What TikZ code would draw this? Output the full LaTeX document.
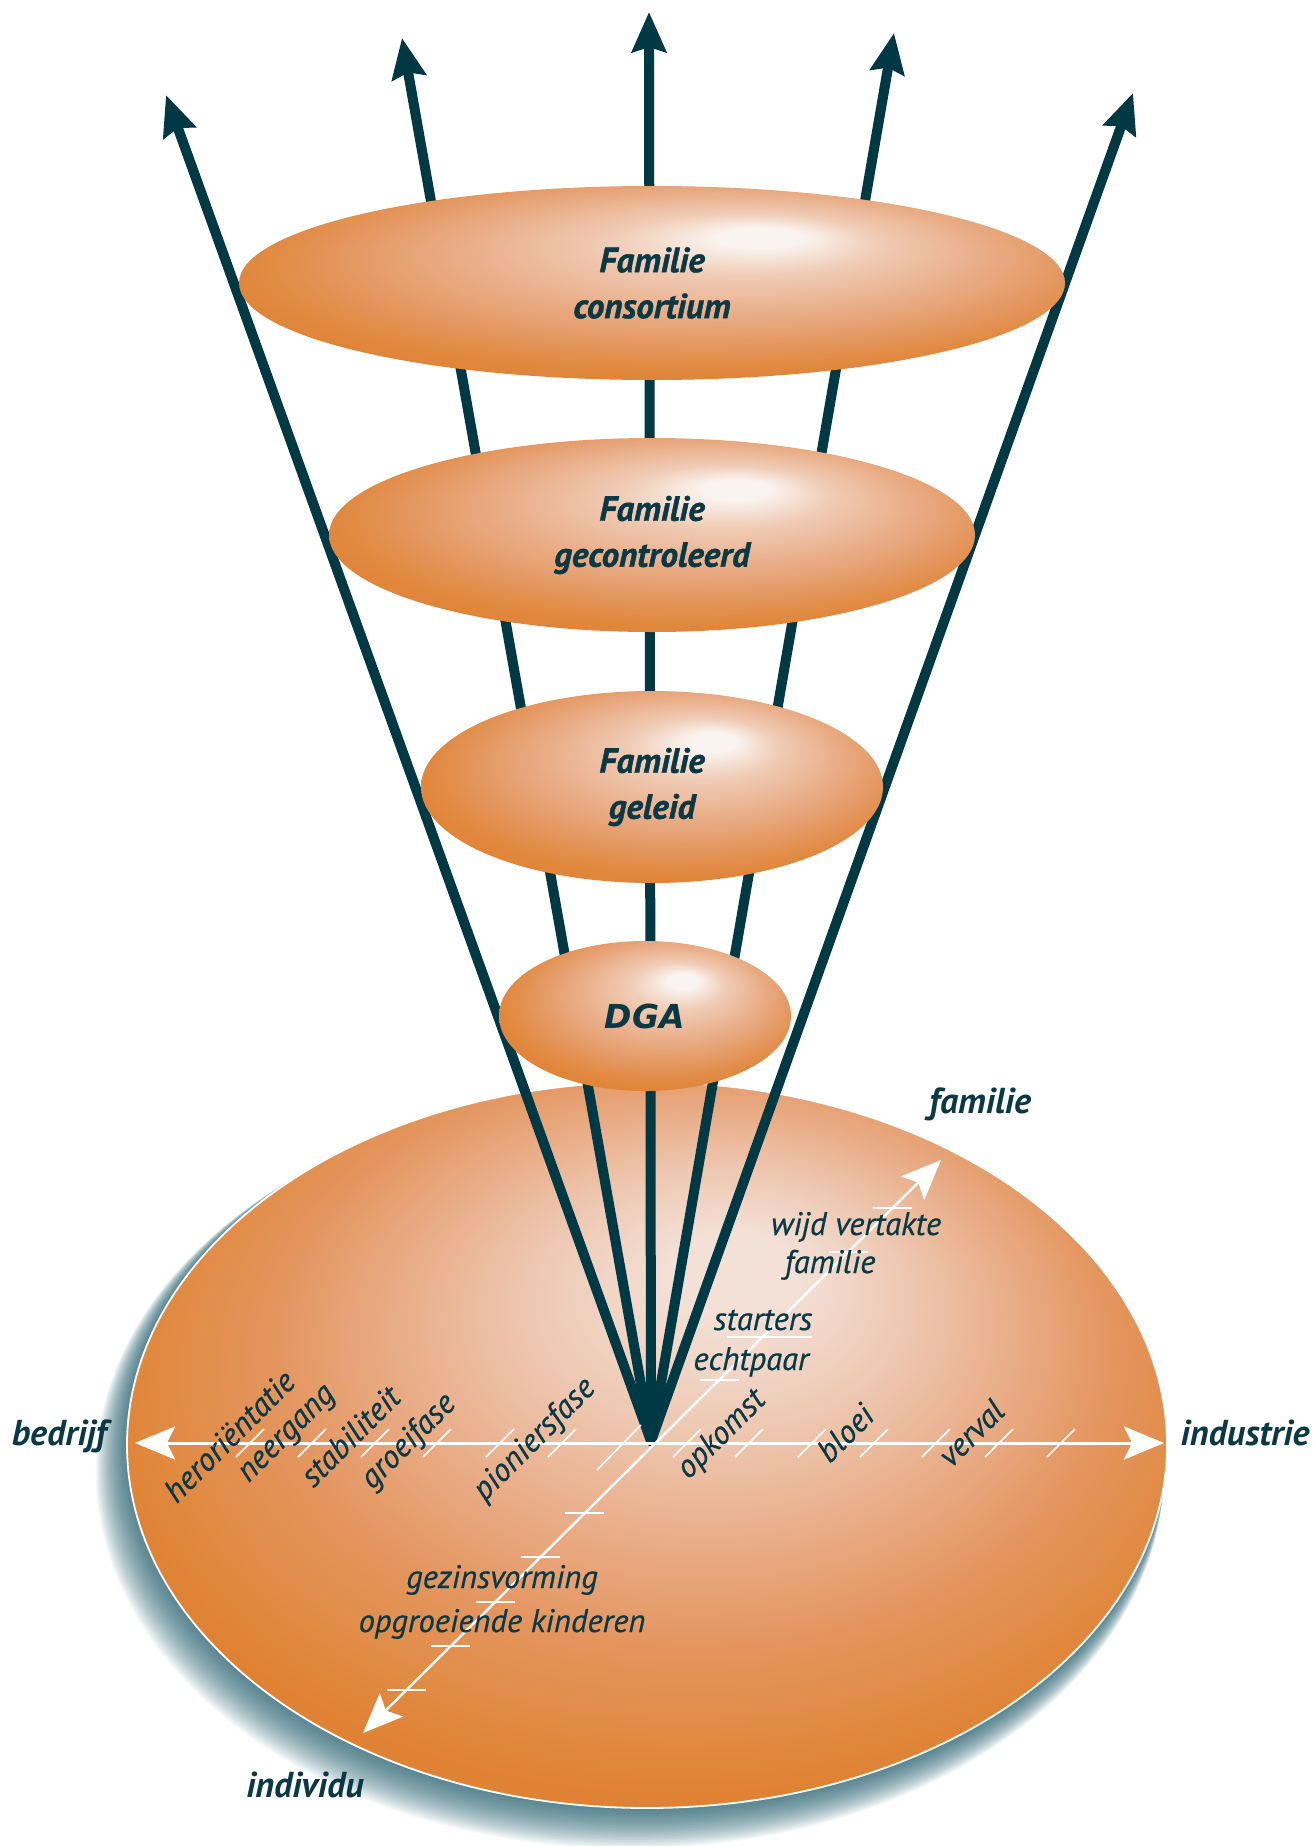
\documentclass[tikz,border=0pt]{standalone}
\usepackage{fontspec}
\setmainfont{PT Sans}
\newfontfamily\labelfont{PT Sans}[FakeBold=0.5]
\newfontfamily\tierfont{PT Sans}[FakeBold=1.2]
\newfontfamily\widefont{DejaVu Sans}
\usetikzlibrary{arrows.meta,shapes.geometric}

\definecolor{deepteal}{RGB}{0,56,68}
\definecolor{inkteal}{RGB}{10,56,68}
\definecolor{shadeteal}{RGB}{34,96,112}
\definecolor{hlcore}{RGB}{250,244,240}
\definecolor{peachA}{RGB}{240,204,182}
\definecolor{peachB}{RGB}{234,176,140}
\definecolor{peachC}{RGB}{229,154,102}
\definecolor{orngA}{RGB}{225,138,66}
\definecolor{orngB}{RGB}{223,130,51}
\definecolor{basinA}{RGB}{243,224,214}
\definecolor{basinB}{RGB}{238,200,178}
\definecolor{basinC}{RGB}{233,172,134}
\definecolor{basinD}{RGB}{228,150,96}

% highlight sitting up and to the right of the centre
\pgfdeclareradialshading{eggshade}{\pgfpoint{7bp}{12.5bp}}{%
  color(0bp)=(hlcore); color(2.5bp)=(hlcore); color(8bp)=(peachA);
  color(15bp)=(peachB); color(21bp)=(peachC); color(26bp)=(orngA);
  color(30bp)=(orngB); color(40bp)=(orngB)}
\pgfdeclareradialshading{basinshade}{\pgfpoint{4.5bp}{12.75bp}}{%
  color(0bp)=(basinA); color(3bp)=(basinA); color(9bp)=(basinB);
  color(15bp)=(basinC); color(20bp)=(basinD); color(25bp)=(orngA);
  color(28bp)=(orngB); color(40bp)=(orngB)}

\begin{document}
\begin{tikzpicture}[x=0.5pt, y=-0.5pt,
  fan/.style={draw=deepteal, line width=5pt, line cap=round,
    -{Stealth[length=20pt, width=17pt, inset=2.5pt]}},
  tier/.style={ellipse, inner sep=0pt, shade, shading=eggshade,
    font=\tierfont\fontsize{17.5}{23}\selectfont\bfseries\itshape,
    text=inkteal, align=center},
  basin/.style={ellipse, inner sep=0pt, shade, shading=basinshade,
    draw=white, line width=0.9pt},
  axisline/.style={draw=white, line width=1.5pt,
    {Stealth[length=20pt, width=16.5pt, inset=4pt]}-{Stealth[length=20pt, width=16.5pt, inset=4pt]}},
  tick/.style={draw=white, line width=0.75pt},
  lbl/.style={font=\labelfont\fontsize{16.3}{19}\selectfont\itshape, text=inkteal, inner sep=0pt},
  endlbl/.style={font=\fontsize{18}{21}\selectfont\bfseries\itshape, text=inkteal, inner sep=0pt}
]
\useasboundingbox (0,0) rectangle (1312,1846);
\fill[white] (0,0) rectangle (1312,1846);

% soft shadow under the base, falling to the lower left
\foreach \i in {1,...,28} {
  \fill[shadeteal, opacity=0.045] (647-0.62*\i, 1445+0.95*\i) ellipse [x radius=520+0.5*\i, y radius=363+0.5*\i];
}

% the base
\node[basin, minimum width=520pt, minimum height=363pt] (base) at (647,1445) {};

% fan of arrows rising from one point
\coordinate (apex) at (651,1441);
\coordinate (t1) at (166,95);
\coordinate (t2) at (402,38);
\coordinate (t3) at (649,12);
\coordinate (t4) at (894,33);
\coordinate (t5) at (1133,93);
\foreach \t in {t1,t2,t3,t4,t5} \draw[fan] (apex) -- (\t);

% stages
\node[tier, minimum width=413pt, minimum height=97pt] (consortium) at (652,283) {Familie\\consortium};
\node[tier, minimum width=323pt, minimum height=97pt] (gecontroleerd) at (652,535) {Familie\\gecontroleerd};
\node[tier, minimum width=231pt, minimum height=96pt] (geleid) at (652,787) {Familie\\geleid};
\node[tier, minimum width=146pt, minimum height=75pt, font=\widefont\fontsize{16.5}{20}\selectfont\bfseries\itshape] (dga) at (645,1016) {DGA};

% axes on the base
\coordinate (west) at (135,1443);
\coordinate (east) at (1164,1443);
\coordinate (famend) at (941,1160);
\coordinate (indend) at (363,1733);
\draw[axisline] (west) -- (east);
\draw[axisline, line width=1.2pt] (famend) -- (indend);

% scale marks on the horizontal axis
\foreach \x in {250,312,375,437,500,562,687,749,812,874,936,999,1061}
  \draw[tick] (\x-14,1457) -- (\x+14,1429);
\draw[tick] (597,1470) -- (641,1425);
% scale marks on the oblique axis
\foreach \y in {1208,1252,1380,1513,1557,1602,1646,1690}
  \draw[tick] ({655+1.009*(1443-\y)-19},\y) -- ++(39,0);
\draw[tick] (727,1337) -- (812,1337);

% axis names
\node[endlbl, anchor=base] (bedrijf) at (59,1445) {bedrijf};
\node[endlbl, anchor=base] (industrie) at (1245,1445) {industrie};
\node[endlbl, anchor=base] (familie) at (980,1113) {familie};
\node[endlbl, anchor=base] (individu) at (305,1797) {individu};

% phases along the horizontal axis
\node[lbl, rotate=45] (p1) at (229,1436) {heroriëntatie};
\node[lbl, rotate=45] (p2) at (289,1436) {neergang};
\node[lbl, rotate=45] (p3) at (350,1436) {stabiliteit};
\node[lbl, rotate=45] (p4) at (409,1442) {groeifase};
\node[lbl, rotate=45] (p5) at (535,1440) {pioniersfase};
\node[lbl, rotate=45] (p6) at (722,1435) {opkomst};
\node[lbl, rotate=45] (p7) at (845,1433) {bloei};
\node[lbl, rotate=45] (p8) at (971,1433) {verval};

% phases along the oblique axis
\node[lbl, anchor=base] (q1) at (856,1235) {wijd vertakte};
\node[lbl, anchor=base] (q2) at (830,1273) {familie};
\node[lbl, anchor=base] (q3) at (763,1330) {starters};
\node[lbl, anchor=base] (q4) at (751,1370) {echtpaar};
\node[lbl, anchor=base] (q5) at (502,1588) {gezinsvorming};
\node[lbl, anchor=base] (q6) at (502,1632) {opgroeiende kinderen};
\end{tikzpicture}
\end{document}
